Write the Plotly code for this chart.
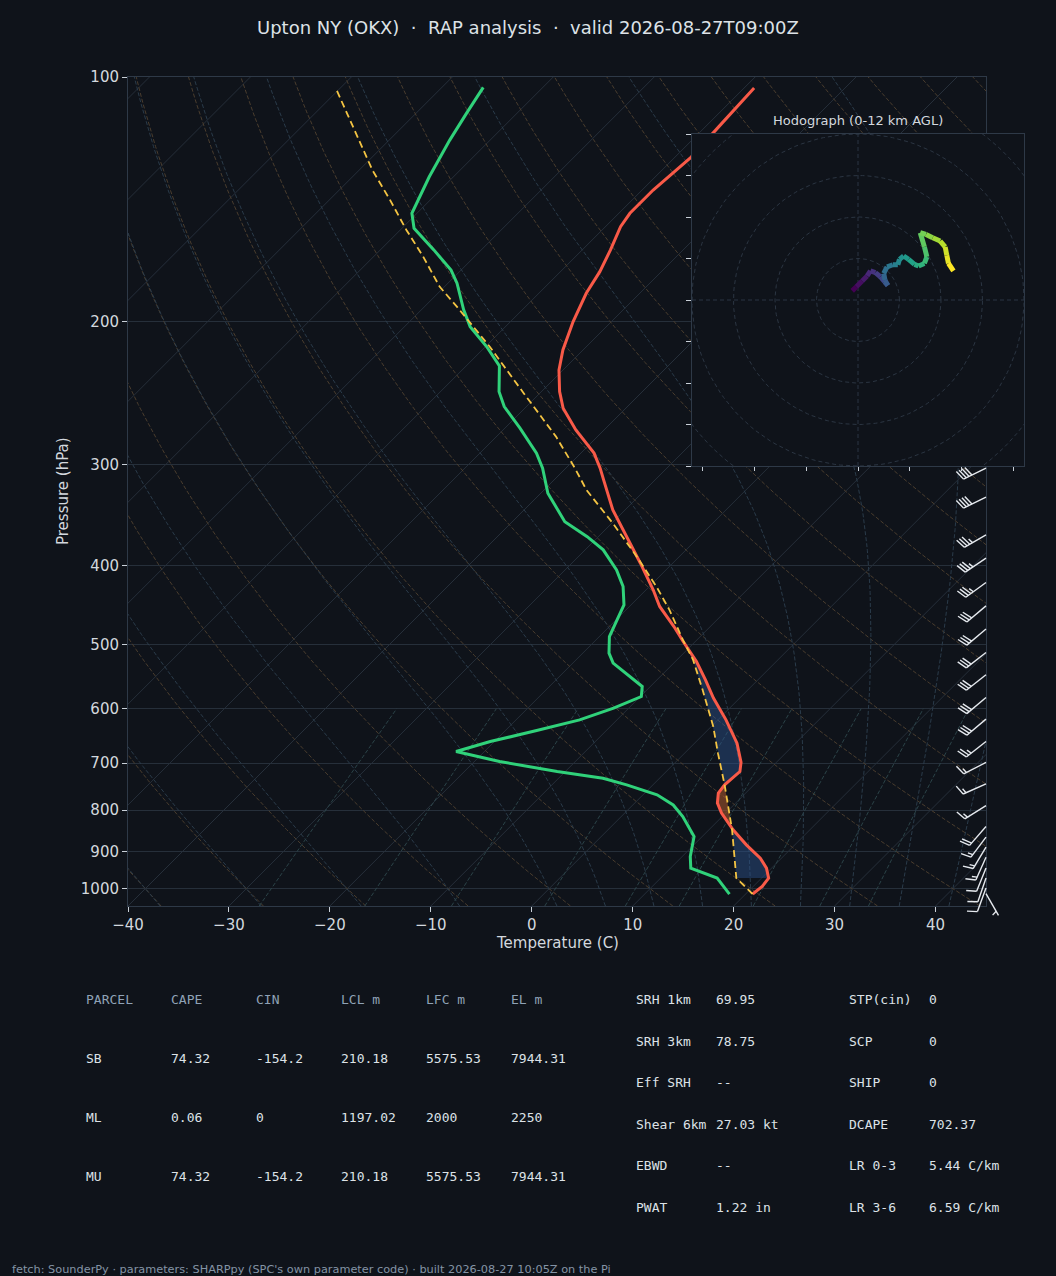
import numpy as np
import plotly.graph_objects as go
from plotly.colors import sample_colorscale

# ---- values ----
title = "Upton NY (OKX)  \u00b7  RAP analysis  \u00b7  valid 2026-08-27T09:00Z"

# environment temperature (hPa, C), surface upward
temp_p = [1015, 993.6, 970.1, 943.0, 916.7, 882.8, 846.0, 806.9, 784.3, 762.3,
          744.6, 717.1, 698.6, 661.6, 619.3, 582.2, 552.8, 524.9, 495.9, 475.3,
          449.0, 428.2, 397.1, 368.3, 341.5, 313.5, 303.3, 290.6, 272.1, 255.9,
          244.1, 229.6, 216.9, 200.1, 184.7, 173.7, 163.3, 152.9, 147.2, 137.8,
          131.4, 125.5, 114.3, 103.2]
temp_c = [20.7, 20.9, 20.7, 19.5, 17.9, 15.2, 12.4, 9.6, 8.2, 7.3,
          7.1, 7.3, 6.5, 4.2, 0.8, -2.6, -5.2, -7.9, -11.2, -13.6,
          -17.0, -19.3, -23.2, -27.2, -31.2, -35.1, -36.6, -38.7, -42.8, -46.2,
          -48.2, -50.4, -52.0, -53.8, -55.3, -56.1, -57.2, -58.5, -58.9, -58.9,
          -58.6, -58.4, -58.7, -59.0]

# dewpoint (hPa, C)
dewp_p = [1015, 970.1, 943.0, 912.5, 862.3, 814.7, 788.3, 766.0, 744.6, 730.8,
          717.1, 697.0, 677.5, 658.6, 638.3, 619.3, 599.0, 579.6, 563.4, 552.8,
          527.2, 512.5, 489.0, 466.3, 446.9, 424.3, 404.7, 382.4, 368.3, 353.0,
          325.6, 303.3, 290.6, 270.8, 254.7, 244.1, 227.0, 214.8, 203.0, 193.6,
          179.5, 172.9, 163.3, 153.6, 147.2, 132.7, 119.6, 110.8, 103.0]
dewp_c = [18.4, 15.6, 12.0, 10.8, 9.2, 6.1, 4.0, 1.4, -2.6, -5.6,
          -10.8, -17.5, -22.8, -20.4, -16.9, -13.7, -11.5, -9.9, -10.8, -12.3,
          -16.0, -17.4, -19.0, -19.9, -20.7, -22.6, -24.9, -28.2, -31.1, -34.8,
          -39.3, -42.3, -44.4, -48.5, -52.2, -54.2, -56.7, -59.9, -63.5, -65.8,
          -69.1, -71.0, -74.7, -78.8, -80.5, -82.4, -84.0, -85.0, -85.9]

# surface parcel trace (hPa, C)
parcel_p = [1015, 970.1, 846.0, 744.6, 680.6, 631.1, 568.6, 522.4, 493.5, 453.3,
            424.3, 389.8, 354.5, 322.6, 303.3, 277.3, 245.2, 214.8, 191.8, 181.2,
            166.4, 154.3, 141.7, 130.2, 103.5]
parcel_c = [20.7, 17.5, 12.3, 7.1, 3.3, 0.2, -4.5, -8.4, -11.4, -15.7,
            -19.3, -24.2, -29.9, -35.8, -39.1, -44.1, -51.6, -59.6, -66.8, -70.5,
            -75.1, -79.4, -84.0, -88.7, -100.3]
lcl_p = 970.1
lfc_p = 494.0

# wind barbs along the right edge
barb_p = [303.3, 329.3, 366.4, 391.5, 419.5, 448.2, 478.7, 511.6, 545.0, 581.3,
          618.0, 658.6, 698.9, 742.5, 789.7, 838.1, 863.8, 888.5, 914.2, 943.0,
          970.1, 998.0, 1014.0]
barb_kt = [40, 40, 35, 35, 35, 30, 30, 30, 30, 30,
           30, 25, 15, 15, 15, 20, 15, 15, 15, 10,
           10, 10, 5]
barb_dir = [244, 244, 240, 236, 234, 230, 230, 232, 232, 230,
            230, 232, 243, 246, 238, 221, 217, 211, 204, 202,
            199, 200, 150]

# hodograph trace, 0-12 km
hodo_u = [-1.4, -0.4, 1.0, 2.2, 3.0, 4.2, 5.4, 6.4, 7.2, 6.5,
          6.2, 7.0, 8.4, 9.6, 10.0, 11.0, 12.2, 13.6, 14.6, 16.0,
          16.6, 16.0, 15.0, 16.4, 18.0, 19.8, 21.0, 21.4, 21.8, 23.0]
hodo_v = [2.2, 3.2, 4.6, 5.8, 7.0, 6.6, 5.6, 4.4, 3.5, 4.8,
          6.4, 8.0, 8.5, 8.5, 9.8, 10.6, 9.8, 8.6, 8.2, 8.8,
          10.4, 12.8, 16.2, 15.8, 15.0, 14.2, 12.8, 10.8, 8.8, 7.0]

p_ticks = [100, 200, 300, 400, 500, 600, 700, 800, 900, 1000]
t_ticks = list(range(-40, 41, 10))

parcel_rows = [
    ["PARCEL", "CAPE", "CIN", "LCL m", "LFC m", "EL m"],
    ["SB", "74.32", "-154.2", "210.18", "5575.53", "7944.31"],
    ["ML", "0.06", "0", "1197.02", "2000", "2250"],
    ["MU", "74.32", "-154.2", "210.18", "5575.53", "7944.31"],
]
kin_labels = ["SRH 1km", "SRH 3km", "Eff SRH", "Shear 6km", "EBWD", "PWAT"]
kin_values = ["69.95", "78.75", "--", "27.03 kt", "--", "1.22 in"]
comp_labels = ["STP(cin)", "SCP", "SHIP", "DCAPE", "LR 0-3", "LR 3-6"]
comp_values = ["0", "0", "0", "702.37", "5.44 C/km", "6.59 C/km"]
footer = ("fetch: SounderPy \u00b7 parameters: SHARPpy (SPC's own parameter code) "
          "\u00b7 built 2026-08-27 10:05Z on the Pi")

# ---- geometry / style ----
W, H = 1056, 1276
MAIN = (128, 986, 77, 906)      # left, right, top, bottom in px
HODO = (692, 1024, 134, 466)
XMIN, XMAX = -40, 45
PBOT, PTOP = 1050, 100
HR = 40

BG = "#0f131a"
FRAME = "#2e3947"
GRID = "#262f3a"
TXT = "#d3d8de"
SANS = "DejaVu Sans"
MONO = "DejaVu Sans Mono"

LOGSPAN = np.log10(PBOT / PTOP)
px_per_deg = (MAIN[1] - MAIN[0]) / (XMAX - XMIN)
dec_per_px = LOGSPAN / (MAIN[3] - MAIN[2])
# isotherms run at 45 degrees on screen: one px right per px up
SKEW = (MAIN[3] - MAIN[2]) / px_per_deg


def dom_x(a, b):
    return [a / W, b / W]


def dom_y(top, bot):
    return [1 - bot / H, 1 - top / H]


def skew(t, p):
    p = np.asarray(p, float)
    return np.asarray(t, float) + SKEW * np.log10(PBOT / p) / LOGSPAN


def moist_lapse(t0c, plev):
    # integrate the saturated adiabat from 1000 hPa in ln(p)
    def f(T, p):
        es = 6.112 * np.exp(17.67 * (T - 273.15) / (T - 29.65))
        rs = 0.622 * es / (p - es)
        return (287.04749 * T + 2.50084e6 * rs) / (
            1004.666 + (2.50084e6 ** 2 * rs * 0.622) / (287.04749 * T ** 2))

    out = {}
    for direction in (plev[plev <= 1000][::-1], plev[plev > 1000]):
        T = np.asarray(t0c, float) + 273.15
        lp = np.log(1000.0)
        for p in direction:
            h = np.log(p) - lp
            n = max(1, int(abs(h) / 0.01))
            dh = h / n
            for _ in range(n):
                pp = np.exp(lp)
                k1 = f(T, pp)
                k2 = f(T + dh * k1 / 2, np.exp(lp + dh / 2))
                k3 = f(T + dh * k2 / 2, np.exp(lp + dh / 2))
                k4 = f(T + dh * k3, np.exp(lp + dh))
                T = T + dh * (k1 + 2 * k2 + 2 * k3 + k4) / 6
                lp += dh
            out[p] = T - 273.15
    return np.array([out[p] for p in plev]).T


fig = go.Figure()


def line(x, y, color, width=1.0, dash=None, axes=("x", "y")):
    fig.add_trace(go.Scatter(x=x, y=y, mode="lines", xaxis=axes[0], yaxis=axes[1],
                             line=dict(color=color, width=width, dash=dash),
                             hoverinfo="skip"))


# isotherms (skewed grid)
pp = np.array([PBOT, PTOP], float)
for t in range(-130, 41, 10):
    line(skew([t, t], pp), pp, GRID, 1)

plev = np.geomspace(PBOT, PTOP, 120)

# dry adiabats
for t0 in np.arange(-40, 201, 10):
    tt = (t0 + 273.15) * (plev / 1000.0) ** 0.2857 - 273.15
    line(skew(tt, plev), plev, "#4a3d2e", 1, "4px,2px")

# moist adiabats
moist_t0 = np.concatenate((np.arange(-40, 0, 10), np.arange(0, 46, 5)))
for tt in moist_lapse(moist_t0, plev):
    line(skew(tt, plev), plev, "#2a3b4a", 1, "4px,2px")

# mixing ratio lines, up to 600 hPa
mlev = np.geomspace(PBOT, 600, 40)
for w in [0.0004, 0.001, 0.002, 0.004, 0.007, 0.01, 0.016, 0.024, 0.032]:
    e = mlev * w / (0.622 + w)
    le = np.log(e / 6.112)
    td = 243.5 * le / (17.67 - le)
    line(skew(td, mlev), mlev, "#2b4348", 1, "4px,2px")

# CIN / CAPE shading between environment and parcel
lp_env = np.log(temp_p)[::-1]
lp_par = np.log(parcel_p)[::-1]
sp = np.exp(np.linspace(np.log(lcl_p), np.log(lfc_p), 400))
te = np.interp(np.log(sp), lp_env, np.array(temp_c)[::-1])
tp = np.interp(np.log(sp), lp_par, np.array(parcel_c)[::-1])
sign = np.sign(te - tp)
start = 0
for i in range(1, len(sp) + 1):
    if i == len(sp) or sign[i] != sign[start]:
        seg = slice(start, min(i + 1, len(sp)))
        xs = np.concatenate((skew(te[seg], sp[seg]), skew(tp[seg], sp[seg])[::-1]))
        ys = np.concatenate((sp[seg], sp[seg][::-1]))
        fill = "rgba(45,85,145,0.45)" if sign[start] > 0 else "rgba(190,95,45,0.5)"
        fig.add_trace(go.Scatter(x=xs, y=ys, mode="lines", fill="toself",
                                 fillcolor=fill, line=dict(width=0),
                                 hoverinfo="skip"))
        start = i

line(skew(temp_c, temp_p), temp_p, "#f95a48", 3)
line(skew(dewp_c, dewp_p), dewp_p, "#30d27a", 3)
line(skew(parcel_c, parcel_p), parcel_p, "#f4c443", 1.8, "7px,4px")


# wind barbs (drawn on a full-figure overlay sharing the skew-T scales)
def barb_path(p, spd, wdir, L=25.0):
    rad = np.deg2rad(wdir)
    u, v = -spd * np.sin(rad), -spd * np.cos(rad)
    th = np.arctan2(v, u) + np.pi / 2
    h, w, spc = 0.4 * L, 0.25 * L, 0.125 * L
    r = int(5 * round(spd / 5))
    nfl, rem = divmod(r, 50)
    nb, rem = divmod(rem, 10)
    segs = [[(0, 0), (0, L)]]
    off = L
    for _ in range(nfl):
        segs.append([(0, off), (h, off - w / 2), (0, off - w), (0, off)])
        off -= w + spc
    for _ in range(nb):
        segs.append([(0, off), (h, off + w / 2)])
        off -= spc
    if rem >= 5:
        if off == L:
            off -= 1.5 * spc
        segs.append([(0, off), (h / 2, off + w / 4)])
    c, s = np.cos(th), np.sin(th)
    xs, ys = [], []
    for seg in segs:
        for a, b in seg:
            X, Y = a * c - b * s, a * s + b * c
            xs.append(XMAX + X / px_per_deg)
            ys.append(p * 10 ** (-Y * dec_per_px))
        xs.append(None)
        ys.append(None)
    return xs, ys


bx, by = [], []
for p, spd, d in zip(barb_p, barb_kt, barb_dir):
    xs, ys = barb_path(p, spd, d)
    bx += xs
    by += ys
line(bx, by, "#e6eaef", 1.4, axes=("x2", "y2"))

# hodograph inset
hx = ("x3", "y3")
fig.add_trace(go.Scatter(x=[-50, 50, 50, -50, -50], y=[-50, -50, 50, 50, -50],
                         mode="lines", fill="toself", fillcolor=BG,
                         line=dict(width=0), xaxis="x3", yaxis="y3", hoverinfo="skip"))
ang = np.linspace(0, 2 * np.pi, 181)
for r in range(10, 51, 10):
    line(r * np.cos(ang), r * np.sin(ang), "#2b3542", 1, "4px,3px", axes=hx)
line([-HR, HR], [0, 0], "#2b3542", 1, "4px,3px", axes=hx)
line([0, 0], [-HR, HR], "#2b3542", 1, "4px,3px", axes=hx)
cols = sample_colorscale("Viridis", list(np.linspace(0, 1, len(hodo_u) - 1)))
for i in range(len(hodo_u) - 1):
    line(hodo_u[i:i + 2], hodo_v[i:i + 2], cols[i], 5, axes=hx)

axis_common = dict(showgrid=False, zeroline=False, showline=True, mirror=True,
                   linecolor=FRAME, linewidth=1, ticks="outside", tickcolor="#c9d0d8",
                   automargin=False,
                   tickfont=dict(family=SANS, size=15, color=TXT))
inset_axis = {k: v for k, v in axis_common.items() if k != "tickfont"}
hidden_axis = dict(visible=False, automargin=False, showgrid=False, zeroline=False)

fig.update_layout(
    width=W, height=H, autosize=False,
    margin=dict(l=0, r=0, t=0, b=0, pad=0, autoexpand=False),
    paper_bgcolor=BG, plot_bgcolor="rgba(0,0,0,0)", showlegend=False,
    hovermode=False,
    xaxis=dict(domain=dom_x(MAIN[0], MAIN[1]), range=[XMIN, XMAX],
               tickvals=t_ticks, ticktext=[str(t).replace("-", "\u2212") for t in t_ticks],
               ticklen=5, **axis_common),
    yaxis=dict(domain=dom_y(MAIN[2], MAIN[3]), type="log",
               range=[np.log10(PBOT), np.log10(PTOP)], tickvals=p_ticks,
               ticktext=[str(p) for p in p_ticks], ticklen=5,
               **{**axis_common, "showgrid": True, "gridcolor": GRID, "gridwidth": 1}),
    xaxis2=dict(domain=[0, 1], range=[XMIN - MAIN[0] / px_per_deg,
                                      XMAX + (W - MAIN[1]) / px_per_deg],
                anchor="y2", **hidden_axis),
    yaxis2=dict(domain=[0, 1], type="log", anchor="x2",
                range=[np.log10(PBOT) + (H - MAIN[3]) * dec_per_px,
                       np.log10(PTOP) - MAIN[2] * dec_per_px], **hidden_axis),
    xaxis3=dict(domain=dom_x(HODO[0], HODO[1]), range=[-HR, HR], anchor="y3",
                tickvals=list(np.arange(-37.5, 38, 12.5)), showticklabels=False,
                ticklen=4, **inset_axis),
    yaxis3=dict(domain=dom_y(HODO[2], HODO[3]), range=[-HR, HR], anchor="x3",
                tickvals=list(range(-40, 41, 10)), showticklabels=False,
                ticklen=5, **inset_axis),
)


def text(px, py, s, size, color=TXT, family=SANS, anchor="left", angle=0):
    fig.add_annotation(x=px / W, y=1 - py / H, xref="paper", yref="paper", text=s,
                       showarrow=False, xanchor=anchor, yanchor="middle",
                       textangle=angle, font=dict(family=family, size=size, color=color))


text(528, 27, title, 18, "#dde2e7", anchor="center")
text(557, 943, "Temperature (C)", 15, anchor="center")
text(63, 491, "Pressure (hPa)", 15, anchor="center", angle=-90)
text(858, 120, "Hodograph (0-12 km AGL)", 13, anchor="center")

col_x = [84, 169, 254, 339, 424, 509]
row_y = [999, 1058, 1117, 1176]
for r, row in enumerate(parcel_rows):
    for c, cell in enumerate(row):
        text(col_x[c], row_y[r], cell, 13, "#8fa2b6" if r == 0 else "#dde2e7", MONO)

side_y = [999, 1041, 1082, 1124, 1165, 1207]
for i in range(len(kin_labels)):
    text(634, side_y[i], kin_labels[i], 13, "#dde2e7", MONO)
    text(714, side_y[i], kin_values[i], 13, "#dde2e7", MONO)
    text(847, side_y[i], comp_labels[i], 13, "#dde2e7", MONO)
    text(927, side_y[i], comp_values[i], 13, "#dde2e7", MONO)

text(10, 1269, footer, 11.3, "#8493a5")

# drop the page margin so the figure sits flush in the window
page_css = ("document.body.style.margin='0';"
            "document.body.style.background='%s';"
            "document.body.style.overflow='hidden';" % BG)
fig.write_html("out.html", post_script=page_css,
               config={"displayModeBar": False, "responsive": False})
